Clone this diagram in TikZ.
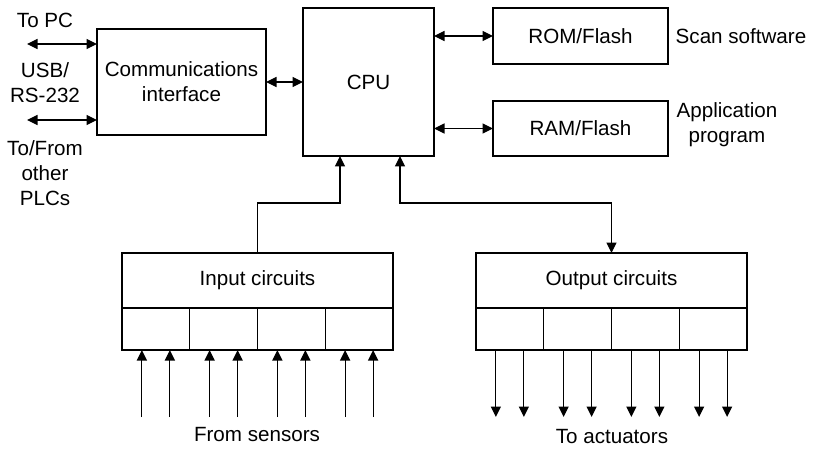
\documentclass[tikz,border=0pt]{standalone}
\usepackage{fontspec}
\setmainfont{Liberation Sans}
\usetikzlibrary{arrows.meta}
\begin{document}
\begin{tikzpicture}[x=1pt,y=-1pt,
  font=\fontsize{20.6}{25}\selectfont,
  box/.style={draw,line width=1.1pt,inner sep=0pt,outer sep=0pt,anchor=north west,align=center},
  lbl/.style={inner sep=0pt,align=center},
  tip/.tip={Triangle[length=10.5pt,width=10pt]},
  arr/.style={line width=1.1pt,-tip},
  dbl/.style={line width=1.1pt,tip-tip}]
\useasboundingbox (0,0) rectangle (819,449);
% main boxes
\node[box,minimum width=169pt,minimum height=106pt] (comm) at (97,29) {Communications\\interface};
\node[box,minimum width=131pt,minimum height=148pt] (cpu) at (303,8) {CPU};
\node[box,minimum width=175pt,minimum height=56pt] (rom) at (493,8) {ROM/Flash};
\node[box,minimum width=175pt,minimum height=55pt] (ram) at (493,101) {RAM/Flash};
\node[box,minimum width=271pt,minimum height=55pt] (inp) at (122,253) {Input circuits};
\node[box,minimum width=271pt,minimum height=55pt] (out) at (476,253) {Output circuits};
% cells
\foreach \i/\x in {1/122,2/189.75,3/257.5,4/325.25}{
  \node[box,minimum width=67.75pt,minimum height=42pt] (ic\i) at (\x,308) {};
}
\foreach \i/\x in {1/476,2/543.75,3/611.5,4/679.25}{
  \node[box,minimum width=67.75pt,minimum height=42pt] (oc\i) at (\x,308) {};
}
% labels
\node[lbl] (tpc) at (45,20) {To PC};
\node[lbl] (usb) at (45,83) {USB/\\RS-232};
\node[lbl] (plcs) at (45,173) {To/From\\other\\PLCs};
\node[lbl] (scan) at (741,36) {Scan software};
\node[lbl] (app) at (727,124.5) {Application\\program};
\node[lbl] (sens) at (257,435) {From sensors};
\node[lbl] (act) at (612,437) {To actuators};
% coordinates
\coordinate (pc) at (27,44);
\coordinate (plc) at (27,120);
\coordinate (cpuL) at (340,156);
\coordinate (cpuR) at (400,156);
% connectors
\draw[dbl] (pc) -- (pc -| comm.west);
\draw[dbl] (plc) -- (plc -| comm.west);
\draw[dbl] (comm.east) -- (comm.east -| cpu.west);
\draw[dbl] (rom.west -| cpu.east) -- (rom.west);
\draw[dbl] (ram.west -| cpu.east) -- (ram.west);
\draw[arr] (inp.north) -- ++(0,-50) -| (cpuL);
\draw[dbl] (cpuR) -- ++(0,47) -| (out.north);
% sensor / actuator arrows
\foreach \i in {1,2,3,4}{
  \coordinate (sa\i) at ([xshift=-14pt,yshift=-67pt]ic\i.south);
  \coordinate (sb\i) at ([xshift=14pt,yshift=-67pt]ic\i.south);
  \draw[arr] (sa\i) -- (sa\i |- ic\i.south);
  \draw[arr] (sb\i) -- (sb\i |- ic\i.south);
  \coordinate (ta\i) at ([xshift=-14pt,yshift=-67pt]oc\i.south);
  \coordinate (tb\i) at ([xshift=14pt,yshift=-67pt]oc\i.south);
  \draw[arr] (oc\i.south -| ta\i) -- (ta\i);
  \draw[arr] (oc\i.south -| tb\i) -- (tb\i);
}
\end{tikzpicture}
\end{document}
